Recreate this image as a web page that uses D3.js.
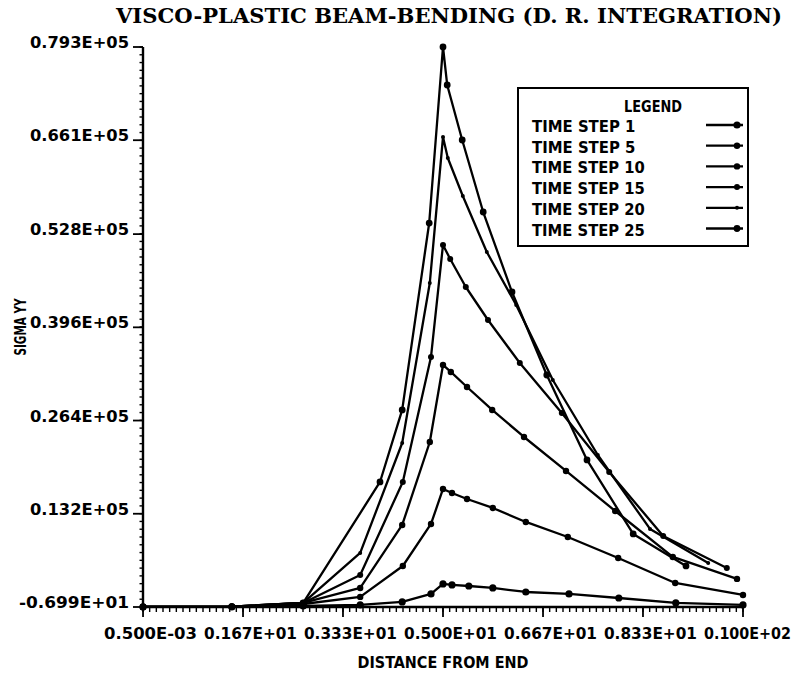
<!DOCTYPE html>
<html><head><meta charset="utf-8">
<script src="https://cdn.jsdelivr.net/npm/d3@7/dist/d3.min.js"></script>
<style>body{margin:0;background:#fff}</style>
</head><body>
<svg id="chart" width="794" height="677"></svg>
<script>
const chartTitle = "VISCO-PLASTIC BEAM-BENDING (D. R. INTEGRATION)";
const xAxisTitle = "DISTANCE FROM END";
const yAxisTitle = "SIGMA YY";
const legendTitle = "LEGEND";

const xTickValues = [0.0005, 1.667, 3.333, 5.0, 6.667, 8.333, 10.0];
const xTickLabels = ["0.500E-03","0.167E+01","0.333E+01","0.500E+01","0.667E+01","0.833E+01","0.100E+02"];
const yTickValues = [-6.99, 13200, 26400, 39600, 52800, 66100, 79300];
const yTickLabels = ["-0.699E+01","0.132E+05","0.264E+05","0.396E+05","0.528E+05","0.661E+05","0.793E+05"];

const seriesNames = ["TIME STEP 1","TIME STEP 5","TIME STEP 10","TIME STEP 15","TIME STEP 20","TIME STEP 25"];

const step1X  = [0.0005,1.48,2.67,3.62,4.32,4.80,5.00,5.15,5.43,5.83,6.38,7.10,7.93,8.88,10.0];
const step1Y  = [0,0,140,280,710,1840,3260,3120,2970,2690,2120,1840,1270,570,280];
const step5X  = [0.0005,1.48,2.67,3.62,4.33,4.80,5.00,5.15,5.40,5.83,6.38,7.08,7.92,8.87,10.0];
const step5Y  = [0,20,420,1420,5800,11750,16710,16140,15290,14020,12040,9910,6940,3400,1700];
const step10X = [0.0005,1.48,2.67,3.62,4.32,4.78,5.00,5.13,5.40,5.82,6.35,7.05,7.87,8.83,9.90];
const step10Y = [0,30,570,2690,11610,23360,34270,33280,31150,27900,24070,19260,13590,7080,3970];
const step15X = [0.0005,1.48,2.67,3.62,4.33,4.80,5.00,5.12,5.38,5.75,6.28,6.98,7.77,8.67,9.73];
const step15Y = [0,40,570,4530,17700,35400,51260,49280,45310,40640,34550,27470,19120,10050,5520];
const step20X = [0.0005,1.48,2.67,3.62,4.32,4.78,5.00,5.08,5.33,5.73,6.22,6.83,7.58,8.45,9.42];
const step20Y = [0,40,570,7650,23220,45880,66550,63580,58200,50270,42760,32140,21520,11050,6230];
const step25X = [0.0005,1.48,2.67,3.95,4.32,4.77,5.00,5.07,5.32,5.67,6.15,6.73,7.40,8.17,9.05];
const step25Y = [0,50,570,17700,27900,54370,79300,73920,66130,55930,44600,32850,20820,10340,5810];

const seriesX = [step1X, step5X, step10X, step15X, step20X, step25X];
const seriesY = [step1Y, step5Y, step10Y, step15Y, step20Y, step25Y];
const markerR = [3.6, 3.2, 3.2, 3.0, 2.0, 3.4];

const svg = d3.select("#chart");
const FONT = "'DejaVu Sans Condensed','DejaVu Sans',sans-serif";

const x = d3.scaleLinear().domain([0, 10]).range([143, 743]);
const y = d3.scaleLinear().domain([-6.99, 79300]).range([607, 47]);

// Title
svg.append("text").attr("x", 449).attr("y", 23).attr("text-anchor", "middle")
  .attr("font-family", "'DejaVu Serif',serif").attr("font-weight", "bold").attr("font-size", 21)
  .attr("textLength", 666).attr("lengthAdjust", "spacingAndGlyphs").text(chartTitle);

// Axes lines
const axisG = svg.append("g").attr("stroke", "#000").attr("fill", "none");
axisG.append("line").attr("x1", x(0)).attr("x2", x(0)).attr("y1", y(79300)).attr("y2", y(-6.99)).attr("stroke-width", 2.4);
axisG.append("line").attr("x1", x(0)).attr("x2", x(10)).attr("y1", y(-6.99)).attr("y2", y(-6.99)).attr("stroke-width", 2.4);

const yMinor = d3.range(0, 6 * 12 + 1).map(i => -6.99 + i * (79300 + 6.99) / 72);
axisG.selectAll(".ym").data(yMinor).enter().append("line")
  .attr("x1", x(0) - 3.5).attr("x2", x(0)).attr("y1", d => y(d)).attr("y2", d => y(d)).attr("stroke-width", 1.4);
axisG.selectAll(".yM").data(yTickValues).enter().append("line")
  .attr("x1", x(0) - 10).attr("x2", x(0)).attr("y1", d => y(d)).attr("y2", d => y(d)).attr("stroke-width", 1.8);
const xMinor = d3.range(0, 6 * 15 + 1).map(i => i * 10 / 90);
axisG.selectAll(".xm").data(xMinor).enter().append("line")
  .attr("x1", d => x(d)).attr("x2", d => x(d)).attr("y1", y(-6.99)).attr("y2", y(-6.99) + 5).attr("stroke-width", 1.4);
axisG.selectAll(".xM").data(xTickValues).enter().append("line")
  .attr("x1", d => x(d)).attr("x2", d => x(d)).attr("y1", y(-6.99)).attr("y2", y(-6.99) + 10).attr("stroke-width", 1.8);

// tick labels
svg.selectAll(".yl").data(yTickValues).enter().append("text")
  .attr("x", 129).attr("y", d => y(d) + 1).attr("text-anchor", "end")
  .attr("font-family", FONT).attr("font-weight", "bold").attr("font-size", 16.5)
  .attr("textLength", (d, i) => yTickLabels[i].length * 11.0).attr("lengthAdjust", "spacingAndGlyphs")
  .text((d, i) => yTickLabels[i]);
svg.selectAll(".xl").data(xTickValues).enter().append("text")
  .attr("x", d => x(d) - 39).attr("y", 639).attr("text-anchor", "start")
  .attr("font-family", FONT).attr("font-weight", "bold").attr("font-size", 16.5)
  .attr("textLength", (d, i) => i === xTickValues.length - 1 ? 87 : 93).attr("lengthAdjust", "spacingAndGlyphs")
  .text((d, i) => xTickLabels[i]);

// axis titles
svg.append("text").attr("x", 443).attr("y", 668).attr("text-anchor", "middle")
  .attr("font-family", FONT).attr("font-weight", "bold").attr("font-size", 16.5)
  .attr("textLength", 171).attr("lengthAdjust", "spacingAndGlyphs").text(xAxisTitle);
svg.append("text").attr("transform", "translate(26,327) rotate(-90)").attr("text-anchor", "middle")
  .attr("font-family", FONT).attr("font-weight", "bold").attr("font-size", 16.5)
  .attr("textLength", 57).attr("lengthAdjust", "spacingAndGlyphs").text(yAxisTitle);

// series
const line = d3.line().x(d => x(d[0])).y(d => y(d[1]));
seriesX.forEach((xs, s) => {
  const pts = xs.map((v, i) => [v, seriesY[s][i]]);
  const g = svg.append("g");
  g.append("path").datum(pts).attr("d", line).attr("fill", "none").attr("stroke", "#000")
    .attr("stroke-width", 2.3).attr("stroke-linejoin", "round");
  g.selectAll("circle").data(pts).enter().append("circle")
    .attr("cx", d => x(d[0])).attr("cy", d => y(d[1])).attr("r", markerR[s]).attr("fill", "#000");
});

// legend
const lg = svg.append("g");
lg.append("rect").attr("x", 518).attr("y", 88).attr("width", 230).attr("height", 158)
  .attr("fill", "#fff").attr("stroke", "#000").attr("stroke-width", 2);
lg.append("text").attr("x", 653).attr("y", 112).attr("text-anchor", "middle")
  .attr("font-family", FONT).attr("font-weight", "bold").attr("font-size", 16.5)
  .attr("textLength", 58).attr("lengthAdjust", "spacingAndGlyphs").text(legendTitle);
seriesNames.forEach((name, i) => {
  const cy = 125 + i * 20.7;
  lg.append("text").attr("x", 532).attr("y", cy + 7)
    .attr("font-family", FONT).attr("font-weight", "bold").attr("font-size", 16.5)
    .attr("textLength", name.length * 9.4).attr("lengthAdjust", "spacingAndGlyphs").text(name);
  lg.append("line").attr("x1", 706).attr("x2", 743).attr("y1", cy).attr("y2", cy)
    .attr("stroke", "#000").attr("stroke-width", 2.3);
  lg.append("circle").attr("cx", 737).attr("cy", cy).attr("r", markerR[i]).attr("fill", "#000");
});
</script>
</body></html>
